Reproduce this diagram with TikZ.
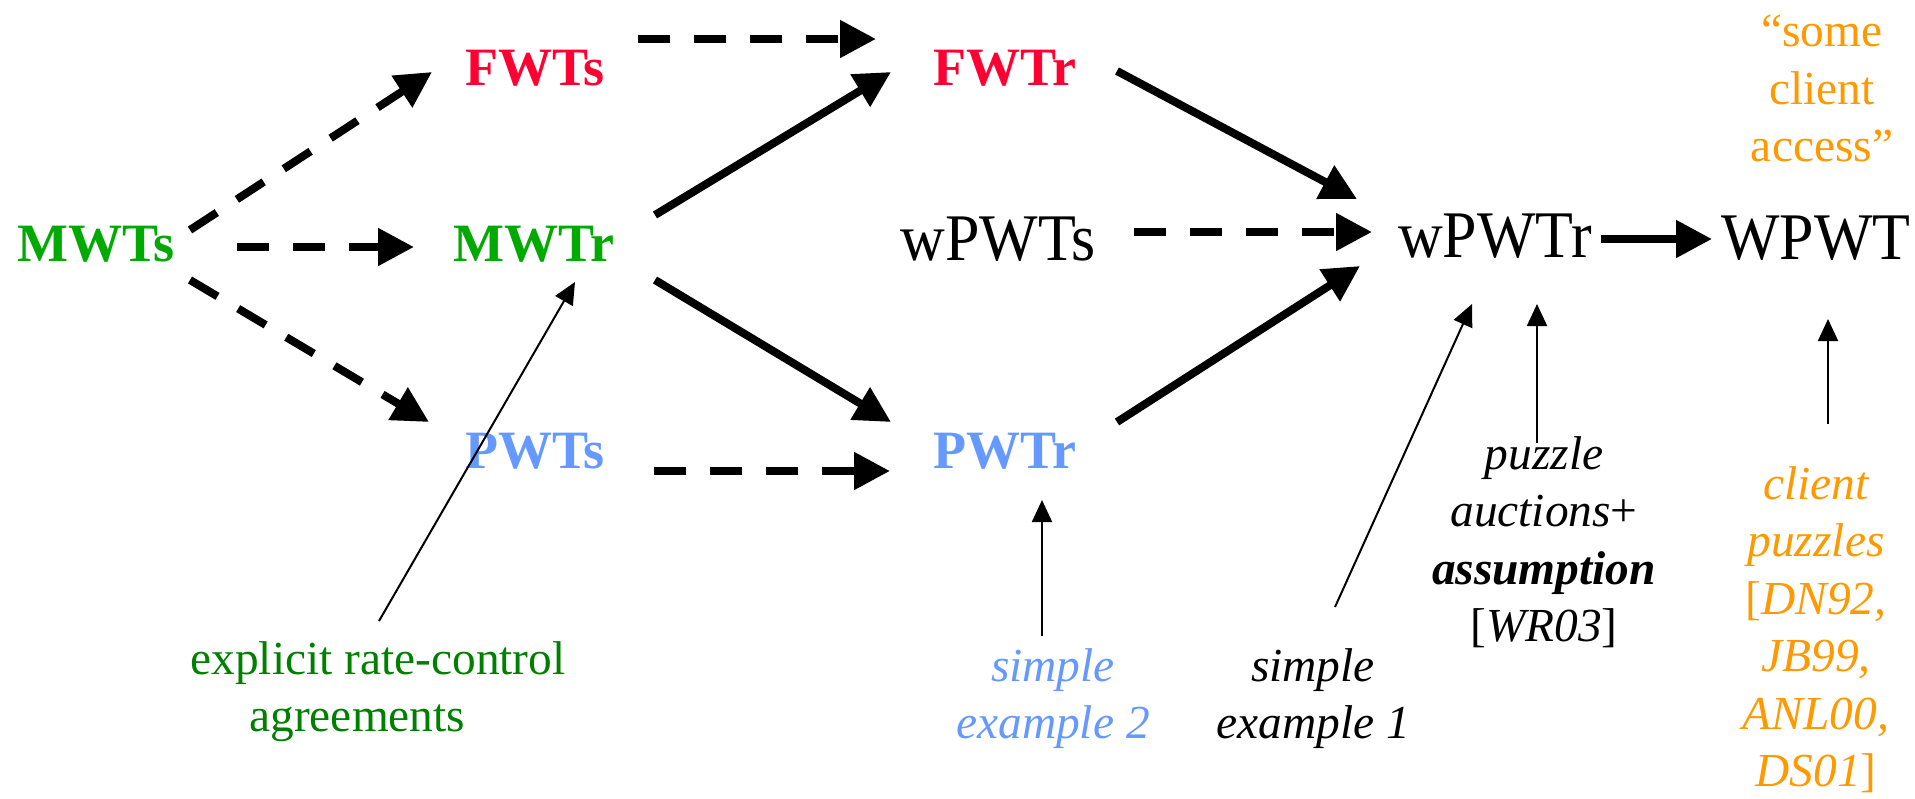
\documentclass[tikz,border=0pt]{standalone}
\usepackage{fontspec}
\setmainfont{Liberation Serif}
\newfontfamily\tallserif{Liberation Serif}[FakeStretch=0.93]
\usetikzlibrary{arrows.meta,calc}

\definecolor{fwred}{RGB}{255,0,51}
\definecolor{mwgreen}{RGB}{0,170,0}
\definecolor{notegreen}{RGB}{0,128,0}
\definecolor{pwblue}{RGB}{102,153,255}
\definecolor{clorange}{RGB}{255,153,0}

\tikzset{
  boldnode/.style={inner sep=0pt, anchor=base, font=\fontsize{27pt}{32pt}\selectfont\bfseries},
  plainnode/.style={inner sep=0pt, anchor=base, font=\tallserif\fontsize{33.3pt}{40pt}\selectfont},
  note/.style={inner sep=0pt, align=center, font=\fontsize{23.7pt}{28.75pt}\selectfont},
  inote/.style={note, font=\fontsize{23.7pt}{28.75pt}\selectfont\itshape},
  thickarrow/.style={line width=4pt, -{Triangle[length=18pt,width=18pt]}},
  thickdash/.style={thickarrow, dash pattern=on 16pt off 12pt},
  thinarrow/.style={line width=1pt, -{Triangle[length=11pt,width=10pt]}},
}

\begin{document}
\begin{tikzpicture}[x=0.5pt, y=-0.5pt]
\useasboundingbox (0,0) rectangle (1915,798);

% main nodes
\node[boldnode, text=mwgreen] (MWTs) at (96,261) {MWTs};
\node[boldnode, text=fwred]   (FWTs) at (535,85)  {FWTs};
\node[boldnode, text=mwgreen] (MWTr) at (534,261) {MWTr};
\node[boldnode, text=pwblue]  (PWTs) at (535,468) {PWTs};
\node[boldnode, text=fwred]   (FWTr) at (1005,85) {FWTr};
\node[boldnode, text=pwblue]  (PWTr) at (1005,468) {PWTr};
\node[plainnode] (wPWTs) at (998,260)  {wPWTs};
\node[plainnode] (wPWTr) at (1495,257) {wPWTr};
\node[plainnode] (WPWT)  at (1816,259) {WPWT};

% annotations
\node[note, align=left, anchor=north west, text=notegreen] (explicit) at (190,641)
  {explicit rate-control\\\hspace*{29.5pt}agreements};
\node[inote, anchor=north, text=pwblue] (ex2) at (1053,648)
  {simple\\example 2};
\node[inote, anchor=north] (ex1) at (1313,648)
  {simple\\example 1};
\node[inote, anchor=north] (puzzle) at (1544,436)
  {puzzle\\auctions\textup{+}\\\textbf{assumption}\\\textup{[}WR03\textup{]}};
\node[inote, anchor=north, text=clorange] (client) at (1816,466)
  {client\\puzzles\\\textup{[}DN92,\\JB99,\\ANL00,\\DS01\textup{]}};
\node[note, anchor=north, text=clorange] (access) at (1822,15)
  {“some\\client\\access”};

% dashed arrows
\draw[thickdash] ($(MWTs.base)+(94,-31)$) -- ($(FWTs.base)+(-103,-13)$);
\draw[thickdash] ($(MWTs.base)+(141,-14)$) -- ($(MWTr.base)+(-120,-14)$);
\draw[thickdash] ($(MWTs.base)+(94,19)$) -- ($(PWTs.base)+(-106,-46)$);
\draw[thickdash] ($(FWTs.base)+(103,-46)$) -- ($(FWTr.base)+(-129,-46)$);
\draw[thickdash] ($(PWTs.base)+(119,3)$) -- ($(PWTr.base)+(-115,3)$);
\draw[thickdash] ($(wPWTs.base)+(136,-28)$) -- ($(wPWTr.base)+(-123,-25)$);

% solid arrows
\draw[thickarrow] ($(MWTr.base)+(121,-46)$) -- ($(FWTr.base)+(-114,-13)$);
\draw[thickarrow] ($(MWTr.base)+(121,19)$) -- ($(PWTr.base)+(-114,-46)$);
\draw[thickarrow] ($(FWTr.base)+(112,-14)$) -- ($(wPWTr.base)+(-138,-58)$);
\draw[thickarrow] ($(PWTr.base)+(112,-46)$) -- ($(wPWTr.base)+(-135,9)$);
\draw[thickarrow] ($(wPWTr.base)+(106,-18)$) -- ($(WPWT.base)+(-104,-20)$);

% thin pointers from the annotations
\draw[thinarrow] ($(explicit.north west)+(189,-20)$) -- ($(MWTr.base)+(41,21)$);
\draw[thinarrow] ($(ex2.north)+(-11,-12)$) -- ($(PWTr.base)+(37,32)$);
\draw[thinarrow] ($(ex1.north)+(22,-41)$) -- ($(wPWTr.base)+(-23,47)$);
\draw[thinarrow] ($(puzzle.north)+(-7,7)$) -- ($(wPWTr.base)+(42,47)$);
\draw[thinarrow] ($(client.north)+(12,-42)$) -- ($(WPWT.base)+(12,60)$);
\end{tikzpicture}
\end{document}
